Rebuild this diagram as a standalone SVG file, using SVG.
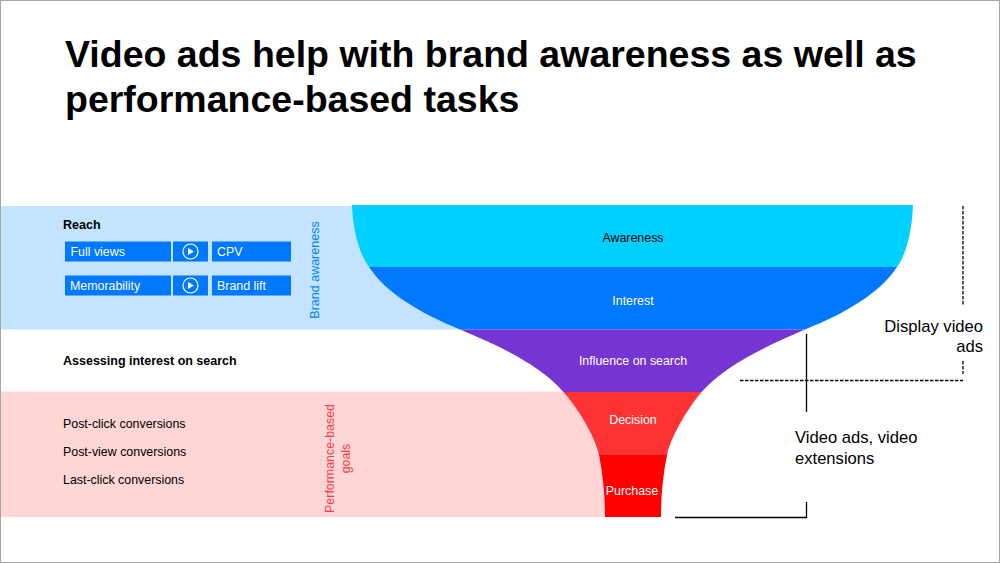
<svg xmlns="http://www.w3.org/2000/svg" width="1000" height="563" viewBox="0 0 1000 563">
<style>
text{font-family:"Liberation Sans",Arial,sans-serif}
.t{font-size:37.500px;font-weight:bold;fill:#000}
.s{font-size:12.400px;fill:#000}
.b{font-size:12.500px;font-weight:bold;fill:#000}
.w{font-size:12.400px;fill:#fff}
.m{text-anchor:middle}
.l{font-size:16.600px;fill:#000}
.box{fill:#0078ff}
.ln{fill:none;stroke:#000;stroke-width:1.3}
.d{stroke-dasharray:3.5 1.5}
</style>
<defs>
<clipPath id="funnel"><path d="M352,205C353,232 360,255 369,267C386,293 420,313 460,329.5C500,346 540,365 563,391.5C582,413 596,440 599,455C603,475 605,495 605,517H661C661,495 663,475 667,455C670,440 684,413 702,391.5C726,365 766,346 805,329.5C846,313 880,293 897,267C906,255 912,232 913,205Z"/></clipPath>
<g id="play"><circle r="7.5" fill="none" stroke="#fff" stroke-width="1.2"/><path d="M-2.500,-3.500L3.500,0L-2.500,3.500Z" fill="#fff"/></g>
</defs>
<rect x="0.500" y="0.500" width="999" height="562" fill="#fff" stroke="#a6a6a6"/>
<text class="t" x="65" y="67">Video ads help with brand awareness as well as</text>
<text class="t" x="65" y="112">performance-based tasks</text>
<g id="band-brand"><rect x="1" y="206" width="480" height="123.500" fill="#c4e3ff"/></g>
<g id="band-performance"><rect x="1" y="391.500" width="620" height="125.500" fill="#ffd6d6"/></g>
<g id="funnel-stages" clip-path="url(#funnel)">
<rect x="340" y="205" width="590" height="62" fill="#00d0ff"/>
<rect x="340" y="267" width="590" height="62.500" fill="#0078ff"/>
<rect x="340" y="329.500" width="590" height="62.500" fill="#7634d2"/>
<rect x="340" y="392" width="590" height="63" fill="#ff3333"/>
<rect x="340" y="455" width="590" height="62" fill="#ff0000"/>
</g>
<g id="stage-labels">
<text class="s m" x="633" y="241.500">Awareness</text>
<text class="w m" x="633" y="304.500">Interest</text>
<text class="w m" x="633" y="364.500">Influence on search</text>
<text class="w m" x="633" y="424">Decision</text>
<text class="w m" x="632" y="495">Purchase</text>
</g>
<g id="reach">
<text class="b" x="63" y="229">Reach</text>
<rect class="box" x="65" y="241.500" width="106" height="20"/>
<rect class="box" x="173" y="241.500" width="35" height="20"/>
<rect class="box" x="212" y="241.500" width="79" height="20"/>
<text class="w" x="70.500" y="256">Full views</text>
<use href="#play" x="190.500" y="251.500"/>
<text class="w" x="217" y="256">CPV</text>
<rect class="box" x="65" y="275.500" width="106" height="20"/>
<rect class="box" x="173" y="275.500" width="35" height="20"/>
<rect class="box" x="212" y="275.500" width="79" height="20"/>
<text class="w" x="70" y="290">Memorability</text>
<use href="#play" x="190.500" y="285.500"/>
<text class="w" x="217" y="290">Brand lift</text>
</g>
<g id="side-brand"><text class="m" transform="translate(319,270) rotate(-90)" font-size="12.500" fill="#0088ee">Brand awareness</text></g>
<g id="assessing"><text class="b" x="63" y="365">Assessing interest on search</text></g>
<g id="conversions">
<text class="s" x="63" y="428">Post-click conversions</text>
<text class="s" x="63" y="456">Post-view conversions</text>
<text class="s" x="63" y="484">Last-click conversions</text>
</g>
<g id="side-performance" font-size="12.400">
<text class="m" transform="translate(334,458.500) rotate(-90)" fill="#ff3b3b">Performance-based</text>
<text class="m" transform="translate(350,458.500) rotate(-90)" fill="#ff3b3b">goals</text>
</g>
<g id="connectors">
<path class="ln d" d="M963,206V306"/>
<path class="ln d" d="M963,361V374"/>
<path class="ln d" d="M740,380.500H963"/>
<path class="ln" d="M806.500,334V412"/>
<path class="ln" d="M806.500,502V517.500H675"/>
</g>
<g id="label-display">
<text class="l" x="983" y="331.500" text-anchor="end">Display video</text>
<text class="l" x="983" y="351.500" text-anchor="end">ads</text>
</g>
<g id="label-video">
<text class="l" x="795" y="443">Video ads, video</text>
<text class="l" x="795" y="463.500">extensions</text>
</g>
</svg>
